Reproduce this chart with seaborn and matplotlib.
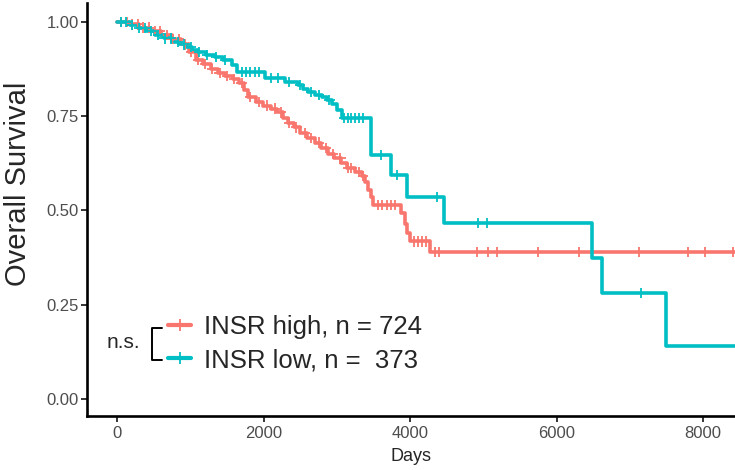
import numpy as np
import pandas as pd
import seaborn as sns
import matplotlib.pyplot as plt
from matplotlib.lines import Line2D

# Kaplan-Meier step estimates (days, survival after the step)
high_times = [0, 150, 300, 450, 600, 750, 880, 980, 1080, 1180, 1280, 1380, 1480, 1580,
              1660, 1730, 1790, 1900, 1990, 2100, 2180, 2260, 2330, 2420, 2500, 2600,
              2700, 2790, 2880, 2960, 3060, 3140, 3250, 3340, 3390, 3430, 3470, 3500,
              3880, 3930, 3960, 4000, 4270, 8600]
high_surv = [1.0, 0.993, 0.985, 0.975, 0.965, 0.955, 0.94, 0.92, 0.90, 0.888, 0.875, 0.865,
             0.856, 0.848, 0.838, 0.82, 0.80, 0.787, 0.778, 0.77, 0.76, 0.745, 0.733, 0.72,
             0.706, 0.692, 0.68, 0.665, 0.65, 0.638, 0.626, 0.613, 0.602, 0.592, 0.575,
             0.555, 0.535, 0.515, 0.493, 0.465, 0.44, 0.418, 0.39, 0.39]

low_times = [0, 180, 290, 400, 520, 640, 750, 840, 930, 1020, 1100, 1220, 1340, 1450,
             1570, 1640, 2020, 2290, 2470, 2540, 2610, 2700, 2800, 2870, 2935, 3000,
             3070, 3470, 3740, 3960, 4465, 6480, 6620, 7495, 8600]
low_surv = [1.0, 0.992, 0.984, 0.975, 0.965, 0.956, 0.947, 0.94, 0.933, 0.926, 0.92, 0.913,
            0.906, 0.898, 0.885, 0.867, 0.852, 0.84, 0.832, 0.822, 0.814, 0.807, 0.80,
            0.792, 0.783, 0.765, 0.745, 0.647, 0.594, 0.535, 0.467, 0.374, 0.281, 0.141,
            0.141]

# censored observations (days)
high_censor = [60, 130, 210, 280, 360, 430, 520, 590, 680, 760, 840, 930, 1010, 1110, 1200,
               1300, 1400, 1500, 1600, 1700, 1820, 1940, 2050, 2150, 2240, 2350, 2450,
               2560, 2650, 2760, 2850, 2950, 3050, 3150, 3200, 3300, 3360, 3560, 3620,
               3680, 3740, 3800, 4050, 4110, 4170, 4220, 4340, 4390, 4910, 5060, 5190,
               5750, 6310, 7130, 7800, 8030, 8410]
low_censor = [50, 120, 200, 300, 380, 470, 560, 650, 740, 830, 920, 1010, 1120, 1230, 1350,
              1470, 1700, 1760, 1820, 1880, 1940, 2100, 2200, 2350, 2500, 2650, 2760,
              2900, 3100, 3150, 3200, 3250, 3300, 3360, 3600, 3820, 4370, 4930, 5050, 7150]

labels = ["INSR high, n = 724", "INSR low, n =  373"]
colors = ["#F8766D", "#00BFC4"]

steps = pd.concat([
    pd.DataFrame({"time": high_times, "surv": high_surv, "group": labels[0]}),
    pd.DataFrame({"time": low_times, "surv": low_surv, "group": labels[1]}),
])


def surv_at(times, surv, t):
    idx = np.searchsorted(times, t, side="right") - 1
    return np.asarray(surv)[idx]


cens = pd.concat([
    pd.DataFrame({"time": high_censor, "surv": surv_at(high_times, high_surv, high_censor),
                  "group": labels[0]}),
    pd.DataFrame({"time": low_censor, "surv": surv_at(low_times, low_surv, low_censor),
                  "group": labels[1]}),
])

sns.set_style("ticks")
plt.rcParams["font.family"] = ["Liberation Sans", "DejaVu Sans"]

fig = plt.figure(figsize=(7.35, 4.7), dpi=100)
ax = fig.add_axes([87 / 735, 54 / 470, 648 / 735, 413 / 470])

pal = dict(zip(labels, colors))
sns.lineplot(data=steps, x="time", y="surv", hue="group", palette=pal, estimator=None,
             sort=False, drawstyle="steps-post", linewidth=2.6, legend=False, ax=ax)
sns.scatterplot(data=cens, x="time", y="surv", hue="group", palette=pal, marker="+",
                s=55, linewidth=1.3, legend=False, ax=ax, zorder=3)

ax.set_xlim(-410, 8437)
ax.set_ylim(-0.045, 1.05)
ax.set_xticks([0, 2000, 4000, 6000, 8000])
ax.set_yticks([0, 0.25, 0.5, 0.75, 1.0])
ax.set_yticklabels(["0.00", "0.25", "0.50", "0.75", "1.00"])
ax.tick_params(length=4.5, width=1.1, color="black", labelcolor="#4D4D4D", labelsize=12)
ax.tick_params(axis="y", pad=1.5)
ax.tick_params(axis="x", pad=3)
for side in ["top", "right"]:
    ax.spines[side].set_visible(False)
for side in ["left", "bottom"]:
    ax.spines[side].set_linewidth(1.9)
    ax.spines[side].set_color("black")

ax.set_xlabel("Days", fontsize=13, va="center")
ax.xaxis.set_label_coords(0.5, -0.097)
ax.set_ylabel("Overall Survival", fontsize=21, va="center")
ax.yaxis.set_label_coords(-0.107, 0.562)

handles = [Line2D([], [], color=c, linewidth=3, marker="+", markersize=8, markeredgewidth=1.3)
           for c in colors]
ax.legend(handles, labels, loc="upper left", bbox_to_anchor=(168 / 735, 1 - 315 / 470),
          bbox_transform=fig.transFigure, frameon=False, fontsize=18.5, handlelength=0.9,
          handletextpad=0.5, labelspacing=0.36, borderpad=0, borderaxespad=0)

fig.text(107 / 735, 1 - 342 / 470, "n.s.", fontsize=15, ha="left", va="center")
bx = np.array([162, 152, 152, 162]) / 735
by = 1 - np.array([328, 328, 360, 360]) / 470
fig.add_artist(Line2D(bx, by, color="black", linewidth=1.4, transform=fig.transFigure))

fig.savefig("out.png", dpi=100)
